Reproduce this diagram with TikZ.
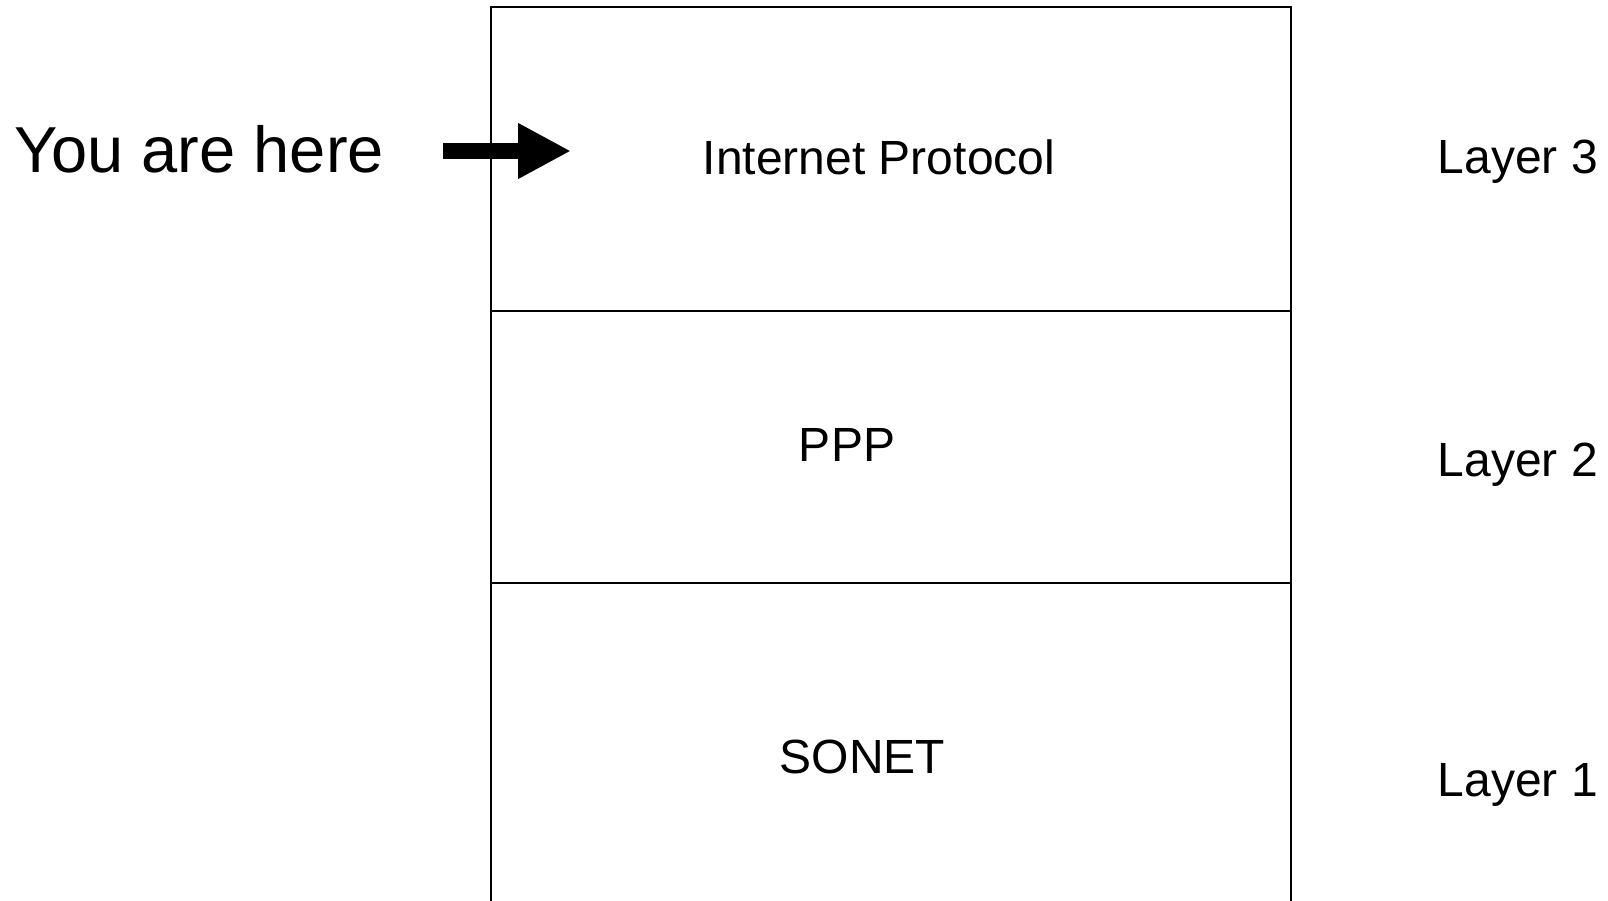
\documentclass[tikz,border=0pt]{standalone}
\usepackage{fontspec}
\setmainfont{Liberation Sans}
\usetikzlibrary{arrows.meta}
\begin{document}
\begin{tikzpicture}[x=1pt,y=-1pt,
  frame/.style={line width=2pt,draw=black},
  label48/.style={inner sep=0pt,font=\fontsize{48}{58}\selectfont},
  label64/.style={inner sep=0pt,font=\fontsize{65}{78}\selectfont},
  pointer/.style={line width=16pt,-{Triangle[length=53pt 0 0,width=52pt 0 0]}}]
  \useasboundingbox (0,0) rectangle (1608,901);

  % protocol stack frame (open at the bottom)
  \coordinate (bl) at (491,901);
  \coordinate (tl) at (491,7);
  \coordinate (tr) at (1291,7);
  \coordinate (br) at (1291,901);
  \draw[frame] (bl) -- (tl) -- (tr) -- (br);
  \coordinate (d1l) at (491,311);
  \coordinate (d1r) at (1291,311);
  \coordinate (d2l) at (491,583);
  \coordinate (d2r) at (1291,583);
  \draw[frame] (d1l) -- (d1r);
  \draw[frame] (d2l) -- (d2r);

  % layer contents
  \node[label48,anchor=base] (ip) at (879,175) {Internet Protocol};
  \node[label48,anchor=base] (ppp) at (847,461.7) {PPP};
  \node[label48,anchor=base] (sonet) at (862.5,773) {SONET};

  % layer numbers
  \node[label48,anchor=base west] (l3) at (1437.5,173.3) {Layer 3};
  \node[label48,anchor=base west] (l2) at (1437.5,476.7) {Layer 2};
  \node[label48,anchor=base west] (l1) at (1437.5,796.7) {Layer 1};

  % pointer
  \node[label64,anchor=base] (here) at (199,172.5) {You are here};
  \coordinate (a0) at (443,151);
  \coordinate (a1) at (571,151);
  \draw[pointer] (a0) -- (a1);
\end{tikzpicture}
\end{document}
